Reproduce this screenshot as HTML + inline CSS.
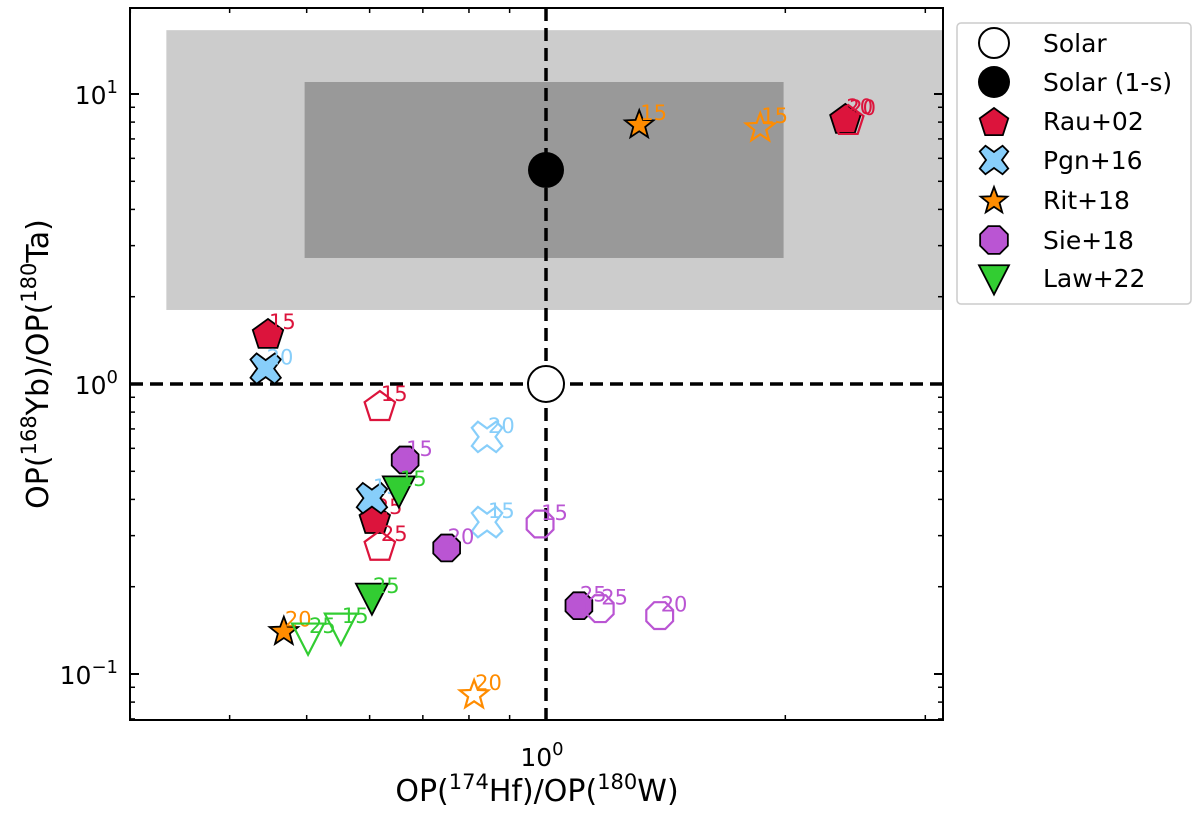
<!DOCTYPE html>
<html><head><meta charset="utf-8"><style>
body{margin:0;background:#fff;}
svg{display:block;font-family:"DejaVu Sans","Liberation Sans",sans-serif;}
</style></head><body>
<svg id="chart" width="1200" height="816"></svg>
<script>
// ---- data ----
const seriesNames = ["Rau+02","Pgn+16","Rit+18","Sie+18","Law+22"];
const seriesColors = ["#dc143c","#87cefa","#ff8c00","#ba55d3","#32cd32"];
const seriesShapes = ["pentagon","x","star","octagon","tri"];
const ptSeries = [0,0,0,0,0,0, 1,1,1,1, 2,2,2,2, 3,3,3,3,3,3, 4,4,4,4];
const ptFilled = [1,1,1,0,0,0, 1,1,0,0, 1,1,0,0, 1,1,1,0,0,0, 1,1,0,0];
const ptX = [0.447,2.38,0.609,0.618,2.40,0.618, 0.444,0.604,0.843,0.843, 1.31,0.468,1.86,0.812, 0.665,0.750,1.10,0.983,1.39,1.17, 0.653,0.604,0.552,0.502];
const ptY = [1.50,8.27,0.345,0.846,8.2,0.279, 1.13,0.404,0.657,0.334, 7.88,0.141,7.69,0.0853, 0.547,0.272,0.172,0.329,0.159,0.168, 0.431,0.184,0.145,0.134];
const ptLabel = ["15","20","25","15","20","25", "20","15","20","15", "15","20","15","20", "15","20","25","15","20","25", "15","25","15","25"];
const solarPt = [1,1];
const solar1sPt = [1,5.47];
const lightBox = [0.333,3.3,1.80,16.6];
const darkBox = [0.497,1.99,2.72,11.0];
const yMajor = [0.1,1,10];
const xMajor = [1];

// ---- axes ----
const L=130,R=943,T=8,B=720;
const X0=546,DX=795,Y0=384,DY=290;
const xs=v=>X0+Math.log10(v)*DX;
const ys=v=>Y0-Math.log10(v)*DY;
const NS="http://www.w3.org/2000/svg";
const svg=document.getElementById('chart');
function mk(tag,attrs,parent){const e=document.createElementNS(NS,tag);for(const k in attrs)e.setAttribute(k,attrs[k]);(parent||svg).appendChild(e);return e;}

const defs=mk('defs',{});
const cp=mk('clipPath',{id:'clip'},defs);mk('rect',{x:L,y:T,width:R-L,height:B-T},cp);
const plot=mk('g',{'clip-path':'url(#clip)'});



let r=mk('rect',{x:xs(lightBox[0]),y:ys(lightBox[3]),width:xs(lightBox[1])-xs(lightBox[0]),height:ys(lightBox[2])-ys(lightBox[3]),fill:'#cccccc'},plot);


r=mk('rect',{x:xs(darkBox[0]),y:ys(darkBox[3]),width:xs(darkBox[1])-xs(darkBox[0]),height:ys(darkBox[2])-ys(darkBox[3]),fill:'#999999'},plot);



let l=mk('line',{x1:L,x2:R,y1:ys(1),y2:ys(1),stroke:'#000','stroke-width':3.5,'stroke-dasharray':'13,7'},plot);


l=mk('line',{x1:xs(1),x2:xs(1),y1:T,y2:B,stroke:'#000','stroke-width':3.5,'stroke-dasharray':'13,7'},plot);



function shape(type,cx,cy,s,fill,stroke,sw,parent){
  let pts=[];
  if(type==='pentagon'){for(let i=0;i<5;i++){const a=-Math.PI/2+i*2*Math.PI/5;pts.push([cx+s*Math.cos(a),cy+s*Math.sin(a)+2]);}}
  else if(type==='octagon'){for(let i=0;i<8;i++){const a=Math.PI/8+i*Math.PI/4;pts.push([cx+s*Math.cos(a),cy+s*Math.sin(a)]);}}
  else if(type==='star'){for(let i=0;i<10;i++){const a=-Math.PI/2+i*Math.PI/5;const rr=i%2?s*0.42:s;pts.push([cx+rr*Math.cos(a),cy+rr*Math.sin(a)+1]);}}
  else if(type==='tri'){pts=[[cx-s,cy-s*0.85],[cx+s,cy-s*0.85],[cx,cy+s*1.1]];}
  else if(type==='x'){const a=s*0.95,w=s*0.38;
    pts=[[cx-a+w,cy-a],[cx,cy-w*1.4],[cx+a-w,cy-a],[cx+a,cy-a+w],[cx+w*1.4,cy],[cx+a,cy+a-w],[cx+a-w,cy+a],[cx,cy+w*1.4],[cx-a+w,cy+a],[cx-a,cy+a-w],[cx-w*1.4,cy],[cx-a,cy-a+w]];}
  return mk('polygon',{points:pts.map(p=>p.join(',')).join(' '),fill:fill,stroke:stroke,'stroke-width':sw,'stroke-linejoin':'miter'},parent);
}
const sizes={pentagon:16,octagon:14.5,star:15,tri:16,x:16};

for(let i=0;i<ptX.length;i++){
  const s=ptSeries[i],f=ptFilled[i];
  const cx=xs(ptX[i]),cy=ys(ptY[i]);
  const col=seriesColors[s];
  const m=shape(seriesShapes[s],cx,cy,sizes[seriesShapes[s]],f?col:'none',f?'#000':col,f?1.8:2.2,plot);
  
  
  const t=mk('text',{x:cx+1,y:cy-4,fill:col,'font-size':21},plot);
  t.textContent=ptLabel[i];
  
  
}
let c=mk('circle',{cx:xs(solar1sPt[0]),cy:ys(solar1sPt[1]),r:18,fill:'#000'},plot);


c=mk('circle',{cx:xs(solarPt[0]),cy:ys(solarPt[1]),r:18,fill:'#fff',stroke:'#000','stroke-width':2},plot);



const fr=mk('rect',{x:L,y:T,width:R-L,height:B-T,fill:'none',stroke:'#000','stroke-width':2});



for(let d=-2;d<=1;d++){for(let k=1;k<10;k++){const v=k*Math.pow(10,d);const y=ys(v);if(y<T||y>B)continue;
  const len=k===1?9:5;
  const t1=mk('line',{x1:L,x2:L+len,y1:y,y2:y,stroke:'#000','stroke-width':k===1?2:1.5});
  
  const t2=mk('line',{x1:R,x2:R-len,y1:y,y2:y,stroke:'#000','stroke-width':k===1?2:1.5});
  
}}
yMajor.forEach(v=>{const y=ys(v);const e=Math.round(Math.log10(v));
  const t=mk('text',{x:L-12,y:y+10,'text-anchor':'end','font-size':25});
  t.innerHTML='10<tspan dy="-11" font-size="18">'+(e<0?'\u2212'+(-e):e)+'</tspan>';
  });
for(let d=-1;d<=0;d++){for(let k=1;k<10;k++){const v=k*Math.pow(10,d);const x=xs(v);if(x<L||x>R)continue;
  const len=k===1?9:5;
  const t1=mk('line',{x1:x,x2:x,y1:B,y2:B-len,stroke:'#000','stroke-width':k===1?2:1.5});
  
  const t2=mk('line',{x1:x,x2:x,y1:T,y2:T+len,stroke:'#000','stroke-width':k===1?2:1.5});
  
}}
xMajor.forEach(v=>{const t=mk('text',{x:xs(v)-4,y:B+46,'text-anchor':'middle','font-size':25});
  t.innerHTML='10<tspan dy="-11" font-size="18">0</tspan>';
  });

let t=mk('text',{x:537,y:801,'text-anchor':'middle','font-size':30});
t.innerHTML='OP(<tspan dy="-12" font-size="21">174</tspan><tspan dy="12">Hf)/OP(</tspan><tspan dy="-12" font-size="21">180</tspan><tspan dy="12">W)</tspan>';

t=mk('text',{x:0,y:0,'text-anchor':'middle','font-size':30,transform:'translate(48,364) rotate(-90)'});
t.innerHTML='OP(<tspan dy="-12" font-size="21">168</tspan><tspan dy="12">Yb)/OP(</tspan><tspan dy="-12" font-size="21">180</tspan><tspan dy="12">Ta)</tspan>';


const lg=mk('g',{});

mk('rect',{x:957,y:23,width:234,height:281,rx:4,fill:'#fff',stroke:'#ccc','stroke-width':1.5},lg);
const legNames=["Solar","Solar (1-s)"].concat(seriesNames);
const rowY=[43,82,121,160,200,240,278];
legNames.forEach((n,i)=>{
  const g=mk('g',{},lg);
  
  
  const y=rowY[i];
  if(i===0)mk('circle',{cx:994,cy:y,r:15,fill:'#fff',stroke:'#000','stroke-width':2},g);
  else if(i===1)mk('circle',{cx:994,cy:y,r:16,fill:'#000'},g);
  else {const s=i-2;shape(seriesShapes[s],994,y,s===2?14:15,seriesColors[s],'#000',1.8,g);}
  const tt=mk('text',{x:1043,y:y+9,'font-size':25},g);tt.textContent=n;
});
</script>
</body></html>
